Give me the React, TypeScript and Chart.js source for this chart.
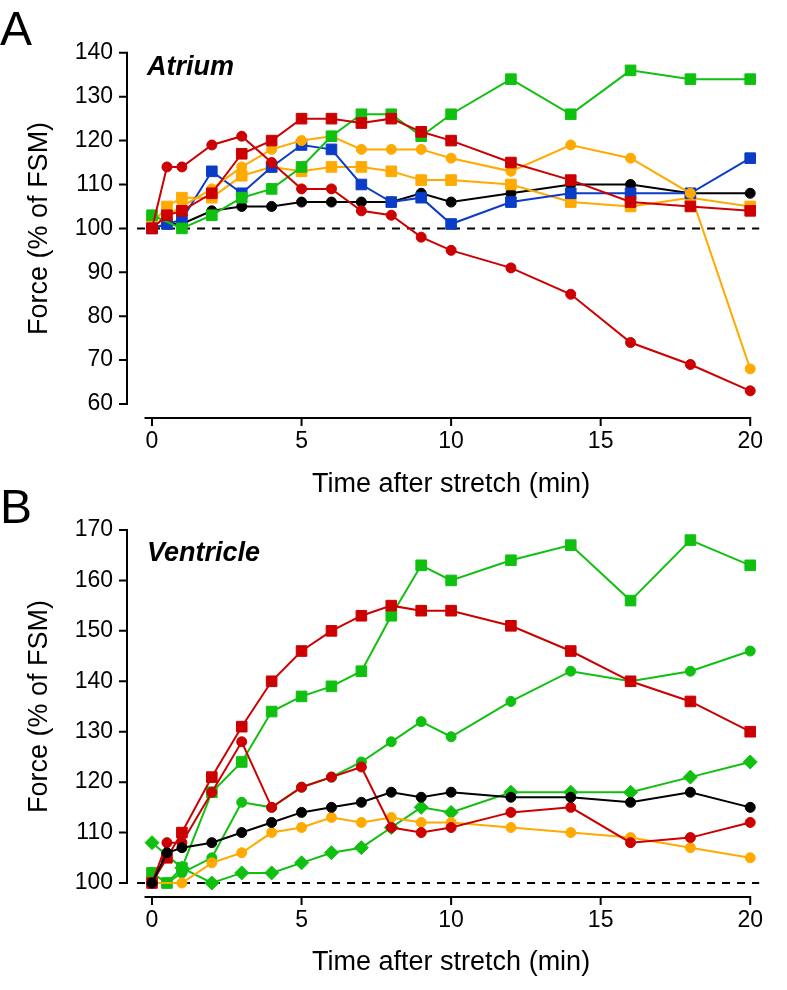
import React, { useEffect, useRef } from "react";
import { Chart, registerables } from "chart.js";

Chart.register(...registerables);

// ---------- shared axes ----------
const TIME = [0, 0.5, 1, 2, 3, 4, 5, 6, 7, 8, 9, 10, 12, 14, 16, 18, 20];
const X_TICKS = [0, 5, 10, 15, 20];
const X_TITLE = "Time after stretch (min)";
const Y_TITLE = "Force (% of FSM)";
const REF_VALUE = 100;
const REF_X = [-0.5, 20.3];

// ---------- Panel A: Atrium ----------
const A_Y_TICKS = [60, 70, 80, 90, 100, 110, 120, 130, 140];
const A_BLACK_CIRCLE = [100, 101, 101, 104, 105, 105, 106, 106, 106, 106, 108, 106, 108, 110, 110, 108, 108];
const A_BLUE_SQUARE = [100, 101, 102, 113, 108, 114, 119, 118, 110, 106, 107, 101, 106, 108, 108, 108, 116];
const A_RED_SQUARE = [100, 103, 104, 108, 117, 120, 125, 125, 124, 125, 122, 120, 115, 111, 106, 105, 104];
const A_RED_CIRCLE = [100, 114, 114, 119, 121, 115, 109, 109, 104, 103, 98, 95, 91, 85, 74, 69, 63];
const A_ORANGE_CIRCLE = [100, 103, 105, 109, 114, 118, 120, 121, 118, 118, 118, 116, 113, 119, 116, 108, 68];
const A_ORANGE_SQUARE = [101, 105, 107, 107, 112, 114, 113, 114, 114, 113, 111, 111, 110, 106, 105, 107, 105];
const A_GREEN_SQUARE = [103, null, 100, 103, 107, 109, 114, 121, 126, 126, 121, 126, 134, 126, 136, 134, 134];

// ---------- Panel B: Ventricle ----------
const B_Y_TICKS = [100, 110, 120, 130, 140, 150, 160, 170];
const B_GREEN_SQUARE = [102, 100, 103, 118, 124, 134, 137, 139, 142, 153, 163, 160, 164, 167, 156, 168, 163];
const B_RED_SQUARE = [100, 105, 110, 121, 131, 140, 146, 150, 153, 155, 154, 154, 151, 146, 140, 136, 130];
const B_RED_CIRCLE = [100, 108, 108, 118, 128, 115, 119, 121, 123, 111, 110, 111, 114, 115, 108, 109, 112];
const B_GREEN_CIRCLE = [100, 100, 102, 105, 116, 115, 119, 121, 124, 128, 132, 129, 136, 142, 140, 142, 146];
const B_GREEN_DIAMOND = [108, null, 103, 100, 102, 102, 104, 106, 107, 111, 115, 114, 118, 118, 118, 121, 124];
const B_BLACK_CIRCLE = [100, 106, 107, 108, 110, 112, 114, 115, 116, 118, 117, 118, 117, 117, 116, 118, 115];
const B_ORANGE_CIRCLE = [100, null, 100, 104, 106, 110, 111, 113, 112, 113, 112, 112, 111, 110, 109, 107, 105];

// ---------- styles ----------
const RED = "#cc0000";
const GREEN = "#10c010";
const BLUE = "#0a3cc8";
const ORANGE = "#ffaa00";
const BLACK = "#000000";
const FONT = "'Liberation Sans', Arial, Helvetica, sans-serif";

type Style = "circle" | "rect" | "rectRot";

function series(label: string, ys: (number | null)[], color: string, style: Style, order: number) {
  const data = TIME.map((t, i) => (ys[i] == null ? null : { x: t, y: ys[i] as number })).filter(
    (p) => p !== null
  );
  const radius = style === "circle" ? 5 : style === "rect" ? 7.5 : 7;
  return {
    label,
    data,
    borderColor: color,
    backgroundColor: color,
    pointBackgroundColor: color,
    pointBorderColor: color,
    pointBorderWidth: 1,
    pointStyle: style,
    pointRadius: radius,
    borderWidth: 2,
    tension: 0,
    clip: false as const,
    order,
  };
}

function refLine() {
  return {
    label: "ref",
    data: REF_X.map((x) => ({ x, y: REF_VALUE })),
    borderColor: BLACK,
    borderWidth: 2,
    borderDash: [8, 7],
    pointRadius: 0,
    clip: false as const,
    order: 100,
  };
}

const decorPlugin = {
  id: "decor",
  afterDraw(chart: any, _args: any, opts: any) {
    const { ctx, chartArea, scales } = chart;
    const x = scales.x;
    const y = scales.y;
    const yTicks: number[] = opts.yTicks;
    ctx.save();
    ctx.strokeStyle = BLACK;
    ctx.lineWidth = 2;
    ctx.lineCap = "butt";
    // y axis
    const ax = chartArea.left - 25;
    const yTop = y.getPixelForValue(yTicks[yTicks.length - 1]);
    const yBot = y.getPixelForValue(yTicks[0]);
    ctx.beginPath();
    ctx.moveTo(ax, yTop - 1);
    ctx.lineTo(ax, yBot + 1);
    for (const v of yTicks) {
      const py = y.getPixelForValue(v);
      ctx.moveTo(ax + 1, py);
      ctx.lineTo(ax - 8, py);
    }
    ctx.stroke();
    // x axis
    const ay = chartArea.bottom + 14;
    ctx.beginPath();
    ctx.moveTo(x.getPixelForValue(-0.25), ay);
    ctx.lineTo(x.getPixelForValue(20) + 1, ay);
    for (const v of X_TICKS) {
      const px = x.getPixelForValue(v);
      ctx.moveTo(px, ay - 1);
      ctx.lineTo(px, ay + 8);
    }
    ctx.stroke();
    // panel letter and name
    ctx.fillStyle = BLACK;
    ctx.textBaseline = "alphabetic";
    ctx.textAlign = "left";
    ctx.font = `48px ${FONT}`;
    ctx.fillText(opts.letter, opts.letterX, opts.letterY);
    ctx.font = `italic bold 27px ${FONT}`;
    ctx.fillText(opts.name, 147, opts.nameY);
    ctx.restore();
  },
};

function makeConfig(
  datasets: any[],
  yTicks: number[],
  padTop: number,
  xAxisH: number,
  xTitlePadBottom: number,
  decor: any
) {
  return {
    type: "line" as const,
    data: { datasets },
    options: {
      animation: false as const,
      responsive: false,
      maintainAspectRatio: false,
      layout: { padding: { left: 0, right: 18, top: padTop, bottom: 0 } },
      plugins: {
        legend: { display: false },
        tooltip: { enabled: false },
        decor,
      },
      scales: {
        x: {
          type: "linear" as const,
          min: 0,
          max: 20,
          afterBuildTicks: (s: any) => {
            s.ticks = X_TICKS.map((v) => ({ value: v }));
          },
          afterFit: (s: any) => {
            s.height = xAxisH;
          },
          grid: { display: false, drawTicks: false },
          border: { display: false },
          ticks: {
            padding: 24,
            color: BLACK,
            maxRotation: 0,
            autoSkip: false,
            font: { family: FONT, size: 23 },
          },
          title: {
            display: true,
            text: X_TITLE,
            color: BLACK,
            font: { family: FONT, size: 27, lineHeight: 1 },
            padding: { top: 0, bottom: xTitlePadBottom },
          },
        },
        y: {
          type: "linear" as const,
          min: yTicks[0],
          max: yTicks[yTicks.length - 1],
          afterBuildTicks: (s: any) => {
            s.ticks = yTicks.map((v) => ({ value: v }));
          },
          afterFit: (s: any) => {
            s.width = 152;
          },
          grid: { display: false, drawTicks: false },
          border: { display: false },
          ticks: {
            padding: 39,
            color: BLACK,
            autoSkip: false,
            font: { family: FONT, size: 23 },
          },
          title: {
            display: true,
            text: Y_TITLE,
            color: BLACK,
            font: { family: FONT, size: 27, lineHeight: 1 },
            padding: { top: 26.5, bottom: 0 },
          },
        },
      },
    },
    plugins: [decorPlugin],
  };
}

export default function App() {
  const refA = useRef<HTMLCanvasElement | null>(null);
  const refB = useRef<HTMLCanvasElement | null>(null);

  useEffect(() => {
    const dsA = [
      series("A red circles", A_RED_CIRCLE, RED, "circle", 1),
      series("A red squares", A_RED_SQUARE, RED, "rect", 2),
      series("A green squares", A_GREEN_SQUARE, GREEN, "rect", 3),
      series("A orange circles", A_ORANGE_CIRCLE, ORANGE, "circle", 4),
      series("A blue squares", A_BLUE_SQUARE, BLUE, "rect", 5),
      series("A orange squares", A_ORANGE_SQUARE, ORANGE, "rect", 6),
      series("A black circles", A_BLACK_CIRCLE, BLACK, "circle", 7),
      refLine(),
    ];
    const dsB = [
      series("B black circles", B_BLACK_CIRCLE, BLACK, "circle", 1),
      series("B red circles", B_RED_CIRCLE, RED, "circle", 2),
      series("B red squares", B_RED_SQUARE, RED, "rect", 3),
      series("B orange circles", B_ORANGE_CIRCLE, ORANGE, "circle", 4),
      series("B green circles", B_GREEN_CIRCLE, GREEN, "circle", 5),
      series("B green diamonds", B_GREEN_DIAMOND, GREEN, "rectRot", 6),
      series("B green squares", B_GREEN_SQUARE, GREEN, "rect", 7),
      refLine(),
    ];
    const chartA = new Chart(
      refA.current as HTMLCanvasElement,
      makeConfig(dsA, A_Y_TICKS, 47, 96, 1.5, {
        yTicks: A_Y_TICKS,
        letter: "A",
        letterX: 0,
        letterY: 45,
        name: "Atrium",
        nameY: 75,
      }) as any
    );
    const chartB = new Chart(
      refB.current as HTMLCanvasElement,
      makeConfig(dsB, B_Y_TICKS, 60, 107, 13.5, {
        yTicks: B_Y_TICKS,
        letter: "B",
        letterX: 0,
        letterY: 53,
        name: "Ventricle",
        nameY: 91,
      }) as any
    );
    return () => {
      chartA.destroy();
      chartB.destroy();
    };
  }, []);

  return (
    <div style={{ position: "absolute", left: 0, top: 0, width: 787, height: 990, background: "#fff" }}>
      <canvas ref={refA} width={787} height={500} style={{ position: "absolute", left: 0, top: 0 }} />
      <canvas ref={refB} width={787} height={520} style={{ position: "absolute", left: 0, top: 470 }} />
    </div>
  );
}
